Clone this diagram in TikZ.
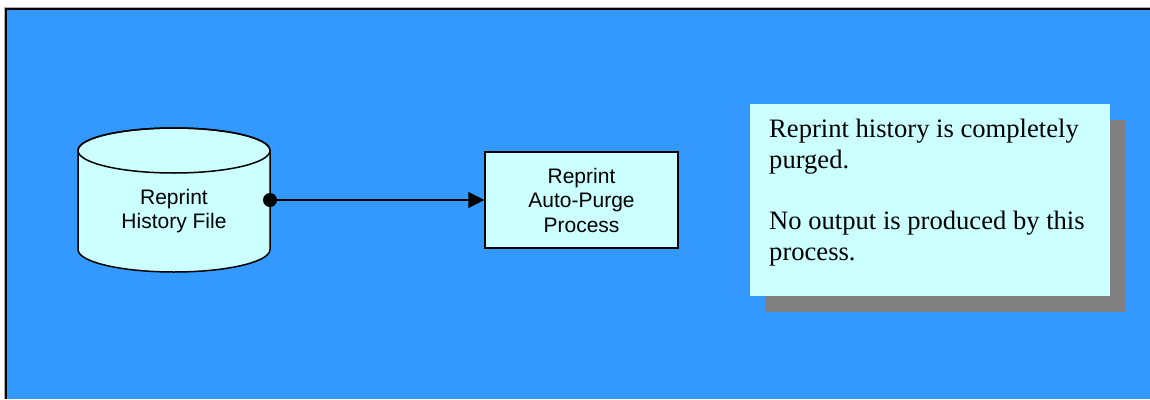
\documentclass[tikz,border=0pt]{standalone}
\usepackage{fontspec}
\setmainfont{Liberation Serif}
\setsansfont{Liberation Sans}
\usetikzlibrary{arrows.meta}
\definecolor{bgblue}{HTML}{3399FF}
\definecolor{lightcyan}{HTML}{CCFFFF}
\definecolor{shadowgray}{HTML}{808080}
\tikzset{
  outline/.style={draw=black, line width=1.5pt},
  sanslabel/.style={font=\sffamily\fontsize{21}{24.5}\selectfont, align=center, text=black},
  procbox/.style={outline, fill=lightcyan, minimum width=193pt, minimum height=96pt, inner sep=0pt},
  notebox/.style={fill=lightcyan, minimum width=360pt, minimum height=192pt, inner sep=0pt},
  shadowbox/.style={fill=shadowgray, minimum width=360pt, minimum height=192pt, inner sep=0pt},
  notetext/.style={font=\rmfamily\fontsize{26.6}{30.7}\selectfont, align=left, inner sep=0pt, text=black},
  flow/.style={line width=1.5pt, -{Triangle[length=16pt,width=16pt]}},
}
\begin{document}
\begin{tikzpicture}[x=1pt,y=1pt]
\useasboundingbox (0,0) rectangle (1150,-399);
\fill[white] (0,0) rectangle (1150,-399);
% frame
\fill[bgblue] (5,-8) rectangle (1150,-399);
\draw[gray!60, line width=1pt] (4,-399) -- (4,-7) -- (1150,-7);
\draw[black, line width=1.6pt] (5.8,-399) -- (5.8,-8.8) -- (1150,-8.8);
% cylinder
\filldraw[outline, fill=lightcyan] (78,-150.5) -- (78,-249.5)
  arc[start angle=180, end angle=360, x radius=96, y radius=22.5] -- (270,-150.5)
  arc[start angle=0, end angle=180, x radius=96, y radius=22.5] -- cycle;
\draw[outline] (174,-150.5) ellipse[x radius=96, y radius=22.5];
\node[sanslabel] (db) at (174,-211) {Reprint\\History File};
\coordinate (dbout) at (270,-200);
% process
\node[procbox, sanslabel] (proc) at (581.5,-200) {Reprint\\Auto-Purge\\Process};
% connector
\fill[black] (dbout) circle[radius=7];
\draw[flow] (dbout) -- (proc.west);
% note
\node[shadowbox] (noteshadow) at (946,-216) {};
\node[notebox] (note) at (930,-200) {};
\node[notetext, anchor=base west] (notetxt) at (769,-260.3)
  {Reprint history is completely\\purged.\\[30.7pt]No output is produced by this\\process.};
\end{tikzpicture}
\end{document}
